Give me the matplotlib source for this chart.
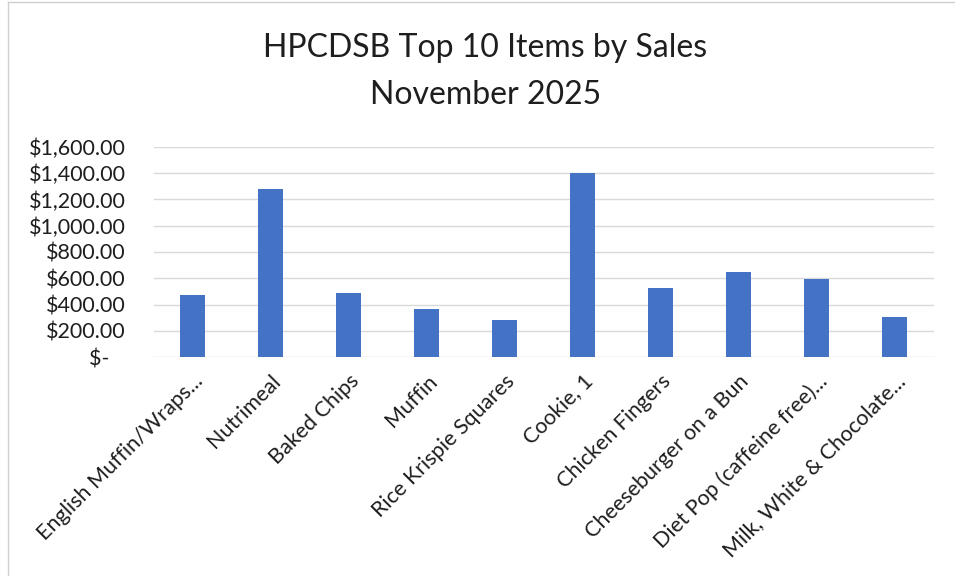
import matplotlib.pyplot as plt
from matplotlib.ticker import FuncFormatter
from matplotlib.lines import Line2D

# Top 10 items by sales, November 2025
items = ['English Muffin/Wraps...', 'Nutrimeal', 'Baked Chips', 'Muffin',
         'Rice Krispie Squares', 'Cookie, 1', 'Chicken Fingers',
         'Cheeseburger on a Bun', 'Diet Pop (caffeine free)...',
         'Milk, White & Chocolate...']
sales = [472, 1282, 488, 368, 282, 1399, 523, 648, 594, 305]
y_ticks = [0, 200, 400, 600, 800, 1000, 1200, 1400, 1600]

plt.rcParams['font.family'] = ['Lato', 'DejaVu Sans']
txt_color = '#1e1e1e'

fig = plt.figure(figsize=(9.55, 5.76), dpi=100)
ax = fig.add_axes([0.161, 0.380, 0.817, 0.365])

x = range(len(items))
ax.bar(x, sales, width=0.32, color='#4472C4', zorder=3)

ax.set_xlim(-0.5, len(items) - 0.5)
ax.set_ylim(0, 1600)
ax.set_yticks(y_ticks)


def money(v, pos):
    if v == 0:
        return '$-   '
    return '${:,.2f}'.format(v)


ax.yaxis.set_major_formatter(FuncFormatter(money))
ax.grid(axis='y', color='#D9D9D9', linewidth=1, zorder=0)
for s in ax.spines.values():
    s.set_visible(False)
ax.tick_params(axis='y', length=0, pad=20, labelsize=15.5, labelcolor=txt_color)
ax.tick_params(axis='x', length=0, pad=10)
ax.set_xticks(list(x))
ax.set_xticklabels(items, rotation=45, ha='right', va='top',
                   rotation_mode='anchor', fontsize=15.5, color=txt_color)

fig.text(0.508, 0.917, 'HPCDSB Top 10 Items by Sales', ha='center', va='center',
         fontsize=23, color=txt_color)
fig.text(0.508, 0.835, 'November 2025', ha='center', va='center',
         fontsize=23, color=txt_color)

# chart-area border: only left and top edges show in the crop
fig.add_artist(Line2D([0.008, 0.008], [0.0, 0.996], transform=fig.transFigure,
                      color='#D0D0D0', linewidth=1))
fig.add_artist(Line2D([0.008, 1.0], [0.996, 0.996], transform=fig.transFigure,
                      color='#D0D0D0', linewidth=1))

fig.savefig('out.png', dpi=100)
